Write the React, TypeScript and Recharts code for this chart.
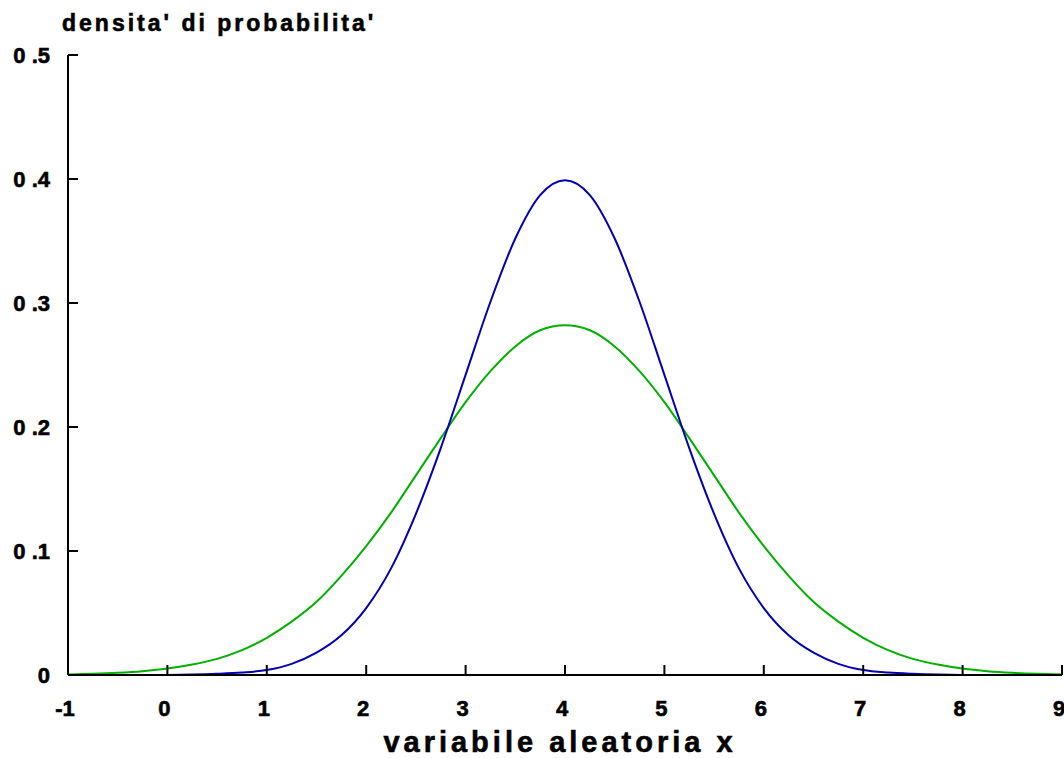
import { LineChart, Line, XAxis, YAxis, Label } from "recharts";

const xValues = [
  -1, -0.75, -0.5, -0.25, 0, 0.25, 0.5, 0.75, 1, 1.25, 1.5, 1.75, 2, 2.25, 2.5, 2.75, 3, 3.25, 3.5, 3.75, 4,
  4.25, 4.5, 4.75, 5, 5.25, 5.5, 5.75, 6, 6.25, 6.5, 6.75, 7, 7.25, 7.5, 7.75, 8, 8.25, 8.5, 8.75, 9,
];

// narrow curve (blue)
const blueValues = [
  0, 0, 0, 0, 0.0001, 0.0004, 0.001, 0.002, 0.004, 0.009, 0.018, 0.032, 0.054, 0.086, 0.13, 0.183, 0.242,
  0.301, 0.352, 0.387, 0.399, 0.387, 0.352, 0.301, 0.242, 0.183, 0.13, 0.086, 0.054, 0.032, 0.018, 0.009,
  0.004, 0.002, 0.001, 0.0004, 0.0001, 0, 0, 0, 0,
];

// wide curve (green)
const greenValues = [
  0.0005, 0.001, 0.0018, 0.0031, 0.0052, 0.0084, 0.013, 0.02, 0.03, 0.043, 0.059, 0.08, 0.104, 0.131, 0.161,
  0.191, 0.22, 0.245, 0.265, 0.278, 0.282, 0.278, 0.265, 0.245, 0.22, 0.191, 0.161, 0.131, 0.104, 0.08,
  0.059, 0.043, 0.03, 0.02, 0.013, 0.0084, 0.0052, 0.0031, 0.0018, 0.001, 0.0005,
];

const xTicks = [-1, 0, 1, 2, 3, 4, 5, 6, 7, 8, 9];
const yTicks = [0, 0.1, 0.2, 0.3, 0.4, 0.5];

const yTitle = "densita' di probabilita'";
const xTitle = "variabile aleatoria x";

const data = xValues.map((x, i) => ({ x, blue: blueValues[i], green: greenValues[i] }));

const font = "'Liberation Sans', Arial, sans-serif";
// slight outline to get the heavy look of the original lettering
const heavy = { stroke: "#000", strokeWidth: 0.6 };

function XTick({ x, y, payload }: any) {
  return (
    <g>
      <line x1={x} y1={y} x2={x} y2={y - 10} stroke="#000" strokeWidth={2} />
      <text x={x - 3} y={y + 41} textAnchor="middle" fontFamily={font} fontWeight="bold" fontSize={22} fill="#000" {...heavy}>
        {payload.value}
      </text>
    </g>
  );
}

function YTick({ x, y, payload }: any) {
  const label = payload.value === 0 ? "0" : payload.value.toFixed(1).replace(".", " .");
  return (
    <g>
      <line x1={x} y1={y} x2={x + 10} y2={y} stroke="#000" strokeWidth={2} />
      <text x={x - 18} y={y + 8} textAnchor="end" fontFamily={font} fontWeight="bold" fontSize={22} fill="#000" {...heavy}>
        {label}
      </text>
    </g>
  );
}

export default function App() {
  return (
    <div style={{ position: "absolute", left: 0, top: 0 }}>
      <LineChart width={1064} height={758} data={data} margin={{ top: 55, right: 2, bottom: 0, left: 0 }}>
        <XAxis
          dataKey="x"
          type="number"
          domain={[-1, 9]}
          ticks={xTicks}
          tickSize={0}
          tickMargin={0}
          height={83}
          tick={<XTick />}
          axisLine={{ stroke: "#000", strokeWidth: 2 }}
          interval={0}
        >
          <Label
            content={() => (
              <text x={560} y={752} textAnchor="middle" fontFamily={font} fontWeight="bold" fontSize={29} letterSpacing={4} fill="#000" {...heavy}>
                {xTitle}
              </text>
            )}
          />
        </XAxis>
        <YAxis
          type="number"
          domain={[0, 0.5]}
          ticks={yTicks}
          tickSize={0}
          tickMargin={0}
          width={68}
          tick={<YTick />}
          axisLine={{ stroke: "#000", strokeWidth: 2 }}
          interval={0}
        >
          <Label
            content={() => (
              <text x={62} y={31} textAnchor="start" fontFamily={font} fontWeight="bold" fontSize={23} letterSpacing={3} fill="#000" {...heavy}>
                {yTitle}
              </text>
            )}
          />
        </YAxis>
        <Line type="monotone" dataKey="green" stroke="#00b000" strokeWidth={2} dot={false} isAnimationActive={false} />
        <Line type="monotone" dataKey="blue" stroke="#0000b0" strokeWidth={2} dot={false} isAnimationActive={false} />
      </LineChart>
    </div>
  );
}
